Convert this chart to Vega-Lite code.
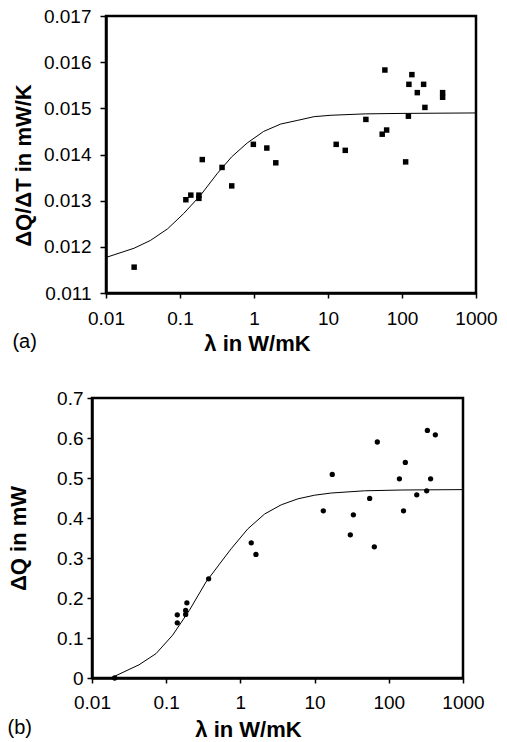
{
  "$schema": "https://vega.github.io/schema/vega-lite/v6.json",
  "background": "white",
  "padding": {"left": 6, "top": 5, "right": 5, "bottom": 0},
  "config": {
    "font": "Liberation Sans",
    "view": {"stroke": "black", "strokeWidth": 2.5},
    "axis": {
      "grid": false,
      "domainColor": "black",
      "domainWidth": 2.5,
      "tickColor": "black",
      "tickWidth": 1.5,
      "tickSize": 5,
      "labelColor": "black",
      "labelFont": "Liberation Sans",
      "labelFontSize": 19,
      "labelFlush": false,
      "labelOverlap": false,
      "titleColor": "black",
      "titleFont": "Liberation Sans",
      "titleFontSize": 22,
      "titleFontWeight": "bold"
    },
    "title": {"font": "Liberation Sans", "fontSize": 20, "fontWeight": "normal", "color": "black"}
  },
  "datasets": {
    "a_curve": [
      {"x": 0.01, "y": 0.01177}, {"x": 0.024, "y": 0.01197}, {"x": 0.04, "y": 0.01214},
      {"x": 0.068, "y": 0.01239}, {"x": 0.112, "y": 0.01272}, {"x": 0.19, "y": 0.01312},
      {"x": 0.316, "y": 0.01358}, {"x": 0.5, "y": 0.01395}, {"x": 0.81, "y": 0.01425},
      {"x": 1.35, "y": 0.0145}, {"x": 2.3, "y": 0.01466}, {"x": 3.9, "y": 0.01474},
      {"x": 6.5, "y": 0.01482}, {"x": 11, "y": 0.01485}, {"x": 32, "y": 0.01488},
      {"x": 100, "y": 0.01489}, {"x": 1000, "y": 0.0149}
    ],
    "a_pts": [
      {"x": 0.024, "y": 0.01156}, {"x": 0.12, "y": 0.01302}, {"x": 0.14, "y": 0.01312},
      {"x": 0.18, "y": 0.01312}, {"x": 0.18, "y": 0.01305}, {"x": 0.2, "y": 0.01389},
      {"x": 0.37, "y": 0.01372}, {"x": 0.5, "y": 0.01332}, {"x": 0.98, "y": 0.01422},
      {"x": 1.49, "y": 0.01414}, {"x": 1.97, "y": 0.01382}, {"x": 12.9, "y": 0.01422},
      {"x": 17.1, "y": 0.01409}, {"x": 32.5, "y": 0.01476}, {"x": 54, "y": 0.01444},
      {"x": 62, "y": 0.01453}, {"x": 58.7, "y": 0.01583}, {"x": 112, "y": 0.01384},
      {"x": 122, "y": 0.01483}, {"x": 124, "y": 0.01552}, {"x": 136, "y": 0.01573},
      {"x": 161, "y": 0.01534}, {"x": 196, "y": 0.01552}, {"x": 204, "y": 0.01502},
      {"x": 354, "y": 0.01534}, {"x": 354, "y": 0.01524}
    ],
    "b_curve": [
      {"x": 0.018, "y": 0}, {"x": 0.043, "y": 0.033}, {"x": 0.073, "y": 0.061},
      {"x": 0.122, "y": 0.107}, {"x": 0.205, "y": 0.169}, {"x": 0.344, "y": 0.24},
      {"x": 0.575, "y": 0.295}, {"x": 0.75, "y": 0.323}, {"x": 1.26, "y": 0.373},
      {"x": 2.12, "y": 0.41}, {"x": 3.55, "y": 0.433}, {"x": 5.97, "y": 0.448},
      {"x": 10, "y": 0.457}, {"x": 16.8, "y": 0.4625}, {"x": 47, "y": 0.468},
      {"x": 150, "y": 0.47}, {"x": 1000, "y": 0.471}
    ],
    "b_pts": [
      {"x": 0.0202, "y": 0}, {"x": 0.141, "y": 0.158}, {"x": 0.141, "y": 0.138},
      {"x": 0.183, "y": 0.169}, {"x": 0.183, "y": 0.159}, {"x": 0.19, "y": 0.188},
      {"x": 0.373, "y": 0.248}, {"x": 1.4, "y": 0.338}, {"x": 1.62, "y": 0.309},
      {"x": 13.1, "y": 0.418}, {"x": 17.3, "y": 0.509}, {"x": 30.3, "y": 0.358},
      {"x": 33.3, "y": 0.408}, {"x": 55.2, "y": 0.449}, {"x": 63.8, "y": 0.328},
      {"x": 70, "y": 0.59}, {"x": 139, "y": 0.498}, {"x": 158, "y": 0.418},
      {"x": 167, "y": 0.539}, {"x": 238, "y": 0.458}, {"x": 324, "y": 0.468},
      {"x": 331, "y": 0.619}, {"x": 366, "y": 0.498}, {"x": 424, "y": 0.608}
    ],
    "empty": []
  },
  "spacing": 31,
  "vconcat": [
    {
      "bounds": "flush",
      "spacing": 13,
      "hconcat": [
        {
          "width": 1,
          "height": 1,
          "view": {"stroke": null},
          "data": {"name": "empty"},
          "mark": "point"
        },
        {
          "width": 370,
          "height": 277,
          "title": {"text": "(a)", "orient": "bottom", "anchor": "start", "offset": -22},
          "encoding": {
            "x": {
              "field": "x", "type": "quantitative",
              "scale": {"type": "log", "domain": [0.01, 1000]},
              "axis": {"values": [0.01, 0.1, 1, 10, 100, 1000], "format": "~g", "labelPadding": 11, "title": "λ  in W/mK", "titlePadding": 5, "titleX": 151}
            },
            "y": {
              "field": "y", "type": "quantitative",
              "scale": {"domain": [0.011, 0.017], "zero": false},
              "axis": {"values": [0.011, 0.012, 0.013, 0.014, 0.015, 0.016, 0.017], "format": ".3f", "tickSize": 6, "labelPadding": 9, "title": "ΔQ/ΔT in mW/K", "titlePadding": 8, "titleY": 149}
            }
          },
          "layer": [
            {"data": {"name": "a_curve"}, "mark": {"type": "line", "color": "black", "strokeWidth": 1}},
            {"data": {"name": "a_pts"}, "mark": {"type": "square", "size": 30, "color": "black", "filled": true, "opacity": 1}}
          ]
        }
      ]
    },
    {
      "width": 371,
      "height": 280,
      "title": {"text": "(b)", "orient": "bottom", "anchor": "start", "offset": -22},
      "encoding": {
        "x": {
          "field": "x", "type": "quantitative",
          "scale": {"type": "log", "domain": [0.01, 1000]},
          "axis": {"values": [0.01, 0.1, 1, 10, 100, 1000], "format": "~g", "labelPadding": 10, "title": "λ in W/mK", "titlePadding": 7, "titleX": 156}
        },
        "y": {
          "field": "y", "type": "quantitative",
          "scale": {"domain": [0, 0.7]},
          "axis": {"values": [0, 0.1, 0.2, 0.3, 0.4, 0.5, 0.6, 0.7], "format": "~g", "labelPadding": 4, "title": "ΔQ in mW", "titlePadding": 26}
        }
      },
      "layer": [
        {"data": {"name": "b_curve"}, "mark": {"type": "line", "color": "black", "strokeWidth": 1}},
        {"data": {"name": "b_pts"}, "mark": {"type": "circle", "size": 28, "color": "black", "opacity": 1}}
      ]
    }
  ]
}
